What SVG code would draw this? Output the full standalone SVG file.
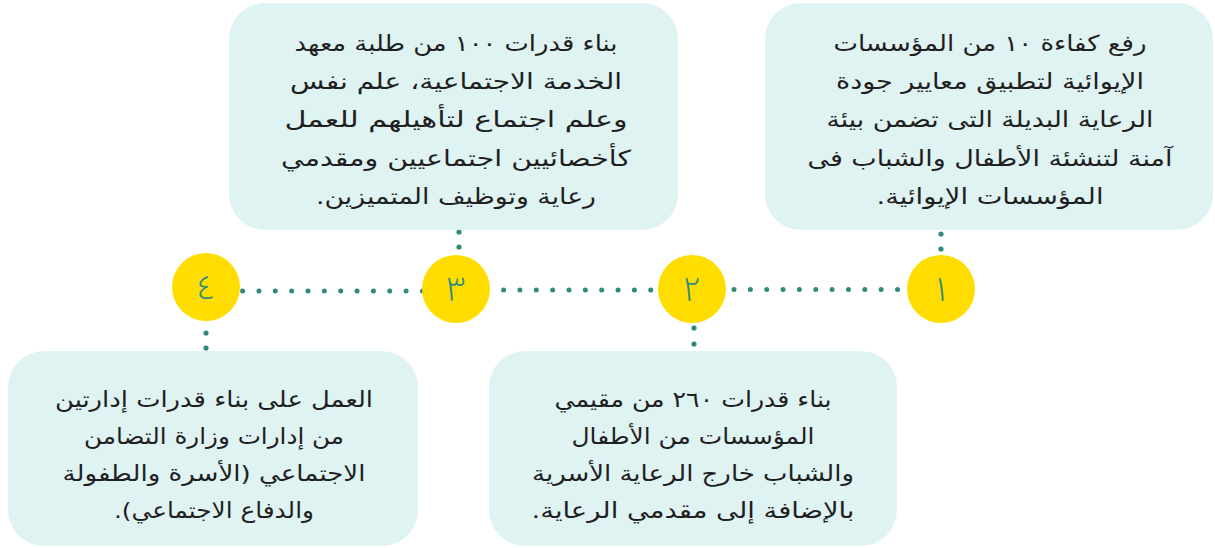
<svg xmlns="http://www.w3.org/2000/svg" width="1215" height="548" viewBox="0 0 1215 548">
<style>
.box{fill:#dff3f3}
.t{font-family:"DejaVu Sans",sans-serif;font-size:22px;fill:#1f1f1f;text-anchor:middle;direction:rtl;font-weight:normal}
.num{fill:#ffdd00}
.n{font-family:"Noto Sans Arabic","DejaVu Sans",sans-serif;font-size:34px;fill:#2e8b7e;text-anchor:middle;font-weight:300}
.dots{stroke:#2e8b7e;stroke-width:5;stroke-linecap:round;stroke-dasharray:0 16.35;fill:none}
.dot{fill:#2e8b7e}
</style>
<rect width="1215" height="548" fill="#ffffff"/>
<g id="connectors">
<line class="dots" x1="242.6" y1="291" x2="423" y2="291"/>
<line class="dots" x1="503.6" y1="290" x2="652" y2="290"/>
<line class="dots" x1="734" y1="289.5" x2="898" y2="289.5"/>
<circle class="dot" cx="941" cy="234" r="2.6"/>
<circle class="dot" cx="941" cy="249" r="2.6"/>
<circle class="dot" cx="459" cy="232" r="2.6"/>
<circle class="dot" cx="459" cy="247" r="2.6"/>
<circle class="dot" cx="694" cy="328" r="2.6"/>
<circle class="dot" cx="694" cy="344" r="2.6"/>
<circle class="dot" cx="206" cy="333" r="2.6"/>
<circle class="dot" cx="206" cy="348" r="2.6"/>
</g>
<g id="box1">
<rect class="box" x="765" y="3" width="448" height="227" rx="36"/>
<text class="t" x="990" y="51" textLength="313" lengthAdjust="spacingAndGlyphs">رفع كفاءة ١٠ من المؤسسات</text>
<text class="t" x="990" y="89" textLength="308" lengthAdjust="spacingAndGlyphs">الإيوائية لتطبيق معايير جودة</text>
<text class="t" x="990" y="127" textLength="327" lengthAdjust="spacingAndGlyphs">الرعاية البديلة التى تضمن بيئة</text>
<text class="t" x="990" y="166" textLength="365" lengthAdjust="spacingAndGlyphs">آمنة لتنشئة الأطفال والشباب فى</text>
<text class="t" x="990" y="204" textLength="227" lengthAdjust="spacingAndGlyphs">المؤسسات الإيوائية.</text>
</g>
<g id="box2">
<rect class="box" x="229" y="3" width="449" height="227" rx="36"/>
<text class="t" x="456" y="51" textLength="323" lengthAdjust="spacingAndGlyphs">بناء قدرات ١٠٠ من طلبة معهد</text>
<text class="t" x="456" y="89" textLength="332" lengthAdjust="spacingAndGlyphs">الخدمة الاجتماعية، علم نفس</text>
<text class="t" x="456" y="127" textLength="343" lengthAdjust="spacingAndGlyphs">وعلم اجتماع لتأهيلهم للعمل</text>
<text class="t" x="456" y="166" textLength="350" lengthAdjust="spacingAndGlyphs">كأخصائيين اجتماعيين ومقدمي</text>
<text class="t" x="456" y="204" textLength="280" lengthAdjust="spacingAndGlyphs">رعاية وتوظيف المتميزين.</text>
</g>
<g id="box3">
<rect class="box" x="489" y="351" width="408" height="195" rx="36"/>
<text class="t" x="693" y="407" textLength="277" lengthAdjust="spacingAndGlyphs">بناء قدرات ٢٦٠ من مقيمي</text>
<text class="t" x="693" y="444" textLength="243" lengthAdjust="spacingAndGlyphs">المؤسسات من الأطفال</text>
<text class="t" x="693" y="481" textLength="322" lengthAdjust="spacingAndGlyphs">والشباب خارج الرعاية الأسرية</text>
<text class="t" x="693" y="518" textLength="323" lengthAdjust="spacingAndGlyphs">بالإضافة إلى مقدمي الرعاية.</text>
</g>
<g id="box4">
<rect class="box" x="8" y="351" width="410" height="195" rx="36"/>
<text class="t" x="214" y="407" textLength="318" lengthAdjust="spacingAndGlyphs">العمل على بناء قدرات إدارتين</text>
<text class="t" x="214" y="444" textLength="260" lengthAdjust="spacingAndGlyphs">من إدارات وزارة التضامن</text>
<text class="t" x="214" y="481" textLength="303" lengthAdjust="spacingAndGlyphs">الاجتماعي (الأسرة والطفولة</text>
<text class="t" x="214" y="518" textLength="200" lengthAdjust="spacingAndGlyphs">والدفاع الاجتماعي).</text>
</g>
<g id="step1">
<circle class="num" cx="941" cy="289" r="34"/>
<text class="n" x="941" y="301">١</text>
</g>
<g id="step2">
<circle class="num" cx="692" cy="289" r="34"/>
<text class="n" x="692" y="301">٢</text>
</g>
<g id="step3">
<circle class="num" cx="456" cy="289" r="34"/>
<text class="n" x="456" y="301">٣</text>
</g>
<g id="step4">
<circle class="num" cx="206" cy="287" r="34"/>
<text class="n" x="206" y="299">٤</text>
</g>
</svg>
